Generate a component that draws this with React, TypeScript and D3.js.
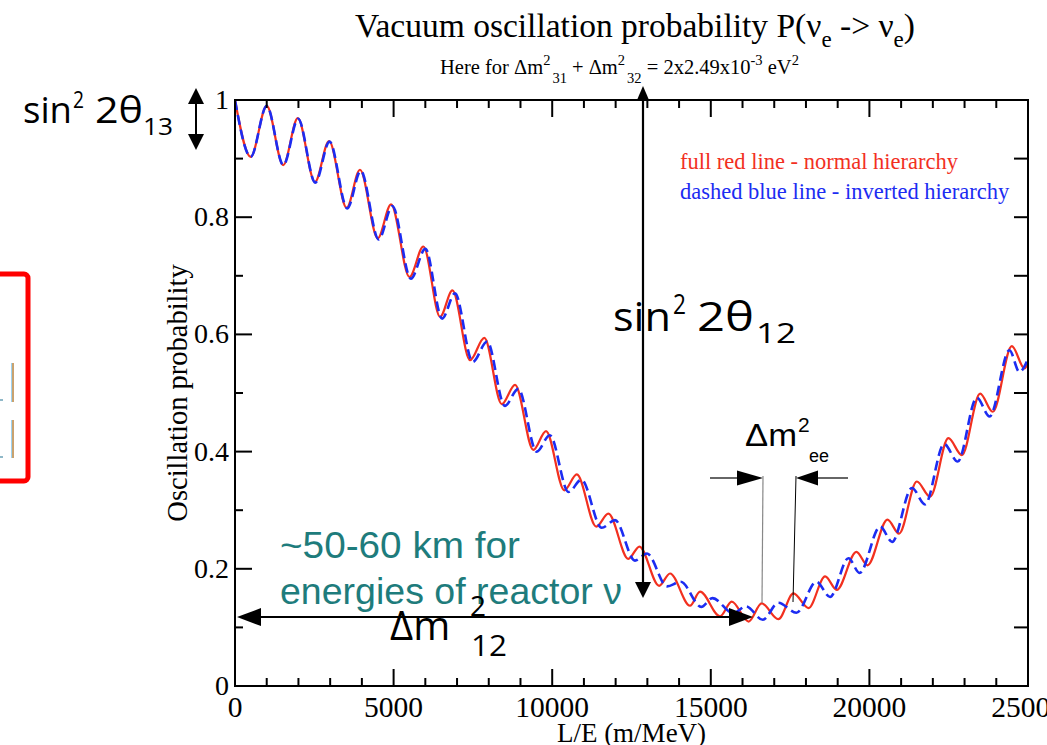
import React from 'react';
import * as d3 from 'd3';

// ---- data ----
const xTickValues = [0, 5000, 10000, 15000, 20000, 25000];
const xTickLabels = ['0', '5000', '10000', '15000', '20000', '25000'];
const yTickValues = [0, 0.2, 0.4, 0.6, 0.8, 1];
const yTickLabels = ['0', '0.2', '0.4', '0.6', '0.8', '1'];

// full red line - normal hierarchy (extrema)
const normalLE = [0, 495, 1000, 1520, 1980, 2520, 2965, 3520, 3940, 4500, 4920, 5500, 5940, 6465, 6855, 7410, 7860, 8410, 8830, 9405, 9805, 10385, 10775, 11390, 11770, 12400, 12750, 13370, 13715, 14345, 14660, 15290, 15660, 16190, 16605, 17130, 17605, 18080, 18605, 18970, 19590, 19940, 20570, 20935, 21495, 21915, 22490, 22915, 23490, 23890, 24490, 24890, 25000];
const normalP = [1.0, 0.903, 0.99, 0.889, 0.969, 0.86, 0.93, 0.816, 0.881, 0.764, 0.822, 0.698, 0.75, 0.63, 0.675, 0.556, 0.594, 0.481, 0.514, 0.403, 0.435, 0.334, 0.361, 0.272, 0.294, 0.217, 0.238, 0.171, 0.192, 0.137, 0.161, 0.119, 0.144, 0.11, 0.141, 0.114, 0.158, 0.133, 0.187, 0.164, 0.229, 0.206, 0.284, 0.26, 0.349, 0.323, 0.423, 0.394, 0.499, 0.468, 0.58, 0.542, 0.55];

// dashed blue line - inverted hierarchy
const invertedLE = [0, 495, 1000, 1525, 1990, 2530, 2980, 3540, 3965, 4530, 4960, 5545, 6000, 6530, 6935, 7495, 7950, 8505, 8930, 9510, 9925, 10515, 10920, 11560, 11980, 12610, 12990, 13620, 14050, 14700, 15050, 15710, 16110, 16640, 17130, 17700, 18330, 18760, 19340, 19690, 20340, 20715, 21340, 21755, 22355, 22785, 23385, 23790, 24415, 24730, 25000];
const invertedP = [1.0, 0.903, 0.99, 0.889, 0.968, 0.859, 0.929, 0.815, 0.879, 0.762, 0.819, 0.695, 0.746, 0.627, 0.67, 0.553, 0.588, 0.478, 0.507, 0.4, 0.428, 0.331, 0.352, 0.27, 0.283, 0.214, 0.226, 0.17, 0.178, 0.135, 0.15, 0.124, 0.136, 0.113, 0.142, 0.125, 0.178, 0.152, 0.218, 0.193, 0.272, 0.246, 0.338, 0.31, 0.413, 0.383, 0.492, 0.46, 0.573, 0.536, 0.558];

const titleMain = 'Vacuum oscillation probability P(ν';
const xAxisTitle = 'L/E (m/MeV)';
const yAxisTitle = 'Oscillation probability';
const legendNormal = 'full red line - normal hierarchy';
const legendInverted = 'dashed blue line - inverted hierarchy';

const RED = '#f2301f';
const BLUE = '#1c2cf2';
const TEAL = '#1e7c7c';
const SERIF = '"Liberation Serif", "Times New Roman", serif';
const SANS = '"Open Sans", "Noto Sans", sans-serif';
const ARIAL = '"Liberation Sans", Arial, sans-serif';

function head(tx: number, ty: number, dir: 'up' | 'down' | 'left' | 'right', len: number, half: number) {
  let pts: number[][] = [];
  if (dir === 'up') pts = [[tx, ty], [tx - half, ty + len], [tx + half, ty + len]];
  if (dir === 'down') pts = [[tx, ty], [tx - half, ty - len], [tx + half, ty - len]];
  if (dir === 'left') pts = [[tx, ty], [tx + len, ty - half], [tx + len, ty + half]];
  if (dir === 'right') pts = [[tx, ty], [tx - len, ty - half], [tx - len, ty + half]];
  return <polygon points={pts.map((p) => p.join(',')).join(' ')} fill="#000" />;
}

function T(props: { x: number; y: number; s: number; w?: number; f?: string; c?: string; children: React.ReactNode }) {
  const { x, y, s, w, f, c, children } = props;
  return (
    <text
      x={x}
      y={y}
      fontSize={s}
      fontFamily={f || SANS}
      fill={c || '#000'}
      textLength={w}
      lengthAdjust={w ? 'spacingAndGlyphs' : undefined}
    >
      {children}
    </text>
  );
}

export default function App() {
  const W = 1047;
  const H = 745;
  const x = d3.scaleLinear().domain([0, 25000]).range([235, 1028]);
  const y = d3.scaleLinear().domain([0, 1]).range([686, 100]);
  const [x0, x1] = x.range();
  const [y0, y1] = y.range();

  const line = d3
    .line<[number, number]>()
    .x((d) => x(d[0]))
    .y((d) => y(d[1]))
    .curve(d3.curveMonotoneX);

  const normalPts = normalLE.map((v, i) => [v, normalP[i]] as [number, number]);
  const invertedPts = invertedLE.map((v, i) => [v, invertedP[i]] as [number, number]);

  const xMinor = d3.range(0, 25001, 1000);
  const yMinor = d3.range(0, 1.0001, 0.1);

  const MAJ = 17;
  const MIN = 8;

  return (
    <svg
      width={W}
      height={H}
      style={{ position: 'absolute', left: 0, top: 0, background: '#fff' }}
    >
      <rect x={0} y={0} width={W} height={H} fill="#fff" />

      {/* red box fragment on the left */}
      <rect x={-20} y={274} width={48} height={207} rx={4} fill="none" stroke="#ff0000" strokeWidth={5} />
      <line x1={13} y1={363} x2={13} y2={402} stroke="#c9a26f" strokeWidth={2} />
      <line x1={11.5} y1={363} x2={11.5} y2={402} stroke="#9fd3f0" strokeWidth={1} />
      <line x1={13} y1={420} x2={13} y2={458} stroke="#c9a26f" strokeWidth={2} />
      <line x1={11.5} y1={420} x2={11.5} y2={458} stroke="#9fd3f0" strokeWidth={1} />
      <line x1={0} y1={400} x2={3} y2={400} stroke="#8fb8c8" strokeWidth={2} />
      <line x1={0} y1={457} x2={3} y2={457} stroke="#8fb8c8" strokeWidth={2} />

      {/* title */}
      <text x={355} y={37} fontFamily={SERIF} fontSize={33.5} fill="#000">
        {titleMain}
        <tspan dy={10} fontSize={23}>e</tspan>
        <tspan dy={-10}> {'->'} ν</tspan>
        <tspan dy={10} fontSize={23}>e</tspan>
        <tspan dy={-10}>)</tspan>
      </text>
      <text x={440} y={74} fontFamily={SERIF} fontSize={20.5} fill="#000">
        Here for Δm
        <tspan dy={-9} fontSize={14.5}>2</tspan>
        <tspan dy={18} fontSize={14.5} dx={2}>31</tspan>
        <tspan dy={-9}> + Δm</tspan>
        <tspan dy={-9} fontSize={14.5}>2</tspan>
        <tspan dy={18} fontSize={14.5} dx={2}>32</tspan>
        <tspan dy={-9}> = 2x2.49x10</tspan>
        <tspan dy={-9} fontSize={14.5}>-3</tspan>
        <tspan dy={9}> eV</tspan>
        <tspan dy={-9} fontSize={14.5}>2</tspan>
      </text>

      {/* curves */}
      <defs>
        <clipPath id="plotclip">
          <rect x={x0} y={y1 - 2} width={x1 - x0} height={y0 - y1 + 2} />
        </clipPath>
      </defs>
      <g clipPath="url(#plotclip)">
        <path d={line(normalPts) || ''} fill="none" stroke={RED} strokeWidth={2.2} />
        <path d={line(invertedPts) || ''} fill="none" stroke={BLUE} strokeWidth={2.6} strokeDasharray="10,5" />
      </g>

      {/* frame */}
      <rect x={x0} y={y1} width={x1 - x0} height={y0 - y1} fill="none" stroke="#000" strokeWidth={2} />

      {/* ticks */}
      {xMinor.map((v) => {
        const major = xTickValues.includes(v);
        const len = major ? MAJ : MIN;
        return (
          <g key={'xt' + v}>
            <line x1={x(v)} x2={x(v)} y1={y0} y2={y0 - len} stroke="#000" strokeWidth={2} />
            <line x1={x(v)} x2={x(v)} y1={y1} y2={y1 + len} stroke="#000" strokeWidth={2} />
          </g>
        );
      })}
      {yMinor.map((v, i) => {
        const major = i % 2 === 0;
        const len = major ? MAJ : MIN;
        return (
          <g key={'yt' + i}>
            <line x1={x0} x2={x0 + len} y1={y(v)} y2={y(v)} stroke="#000" strokeWidth={2} />
            <line x1={x1} x2={x1 - 14} y1={y(v)} y2={y(v)} stroke="#000" strokeWidth={2} />
          </g>
        );
      })}
      {xTickValues.map((v, i) => (
        <text key={'xl' + v} x={x(v)} y={717} textAnchor="middle" fontFamily={SERIF} fontSize={29.5} fill="#000">
          {xTickLabels[i]}
        </text>
      ))}
      {yTickValues.map((v, i) => (
        <text key={'yl' + v} x={229} y={y(v) + 9} textAnchor="end" fontFamily={SERIF} fontSize={28} fill="#000">
          {yTickLabels[i]}
        </text>
      ))}
      <text x={(x0 + x1) / 2} y={742} textAnchor="middle" fontFamily={SERIF} fontSize={27} fill="#000">
        {xAxisTitle}
      </text>
      <text
        transform={`translate(187, ${(y0 + y1) / 2}) rotate(-90)`}
        textAnchor="middle"
        fontFamily={SERIF}
        fontSize={28.5}
        fill="#000"
      >
        {yAxisTitle}
      </text>

      {/* legend */}
      <text x={680} y={169} fontFamily={SERIF} fontSize={22.5} fill={RED}>{legendNormal}</text>
      <text x={680} y={199} fontFamily={SERIF} fontSize={22.5} fill={BLUE}>{legendInverted}</text>

      {/* sin^2 2theta13 annotation */}
      <T x={23} y={123} s={37} w={49}>sin</T>
      <T x={73} y={108} s={24} w={11}>2</T>
      <T x={95} y={123} s={37} w={48}>2θ</T>
      <T x={143} y={135} s={24} w={30}>13</T>
      <line x1={196} y1={100} x2={196} y2={138} stroke="#000" strokeWidth={2} />
      {head(196, 88, 'up', 16, 8)}
      {head(196, 150, 'down', 16, 8)}

      {/* sin^2 2theta12 vertical arrow */}
      <line x1={643} y1={96} x2={643} y2={588} stroke="#000" strokeWidth={2.2} />
      {head(643, 86, 'up', 14, 6)}
      {head(643, 598, 'down', 16, 8)}
      <T x={613} y={331} s={40} w={58}>sin</T>
      <T x={673} y={314} s={27} w={13}>2</T>
      <T x={697} y={331} s={40} w={57}>2θ</T>
      <T x={756} y={343} s={27} w={40}>12</T>

      {/* teal text */}
      <T x={280} y={558} s={37.5} f={ARIAL} c={TEAL} w={240}>~50-60 km for</T>
      <T x={280} y={604} s={37.5} f={ARIAL} c={TEAL} w={342}>energies of reactor ν</T>

      {/* Delta m^2_12 horizontal arrow */}
      <line x1={255} y1={617} x2={735} y2={617} stroke="#000" strokeWidth={2} />
      {head(237, 617, 'left', 24, 9)}
      {head(753, 617, 'right', 24, 9)}
      <T x={390} y={640} s={40}>Δm</T>
      <T x={470} y={616} s={28}>2</T>
      <T x={471} y={656} s={30} w={36}>12</T>

      {/* Delta m^2_ee */}
      <T x={745} y={446} s={31} f={ARIAL} w={52}>Δm</T>
      <T x={798} y={432} s={21} f={ARIAL}>2</T>
      <T x={809} y={462} s={18} f={ARIAL} w={20}>ee</T>
      <line x1={710} y1={478} x2={742} y2={478} stroke="#000" strokeWidth={1.2} />
      {head(763, 478, 'right', 26, 7.5)}
      <line x1={848} y1={478} x2={818} y2={478} stroke="#000" strokeWidth={1.2} />
      {head(796, 478, 'left', 22, 7.5)}
      <line x1={763} y1={476} x2={762} y2={603} stroke="#888" strokeWidth={1.2} />
      <line x1={796} y1={476} x2={793} y2={602} stroke="#000" strokeWidth={1} />
    </svg>
  );
}
